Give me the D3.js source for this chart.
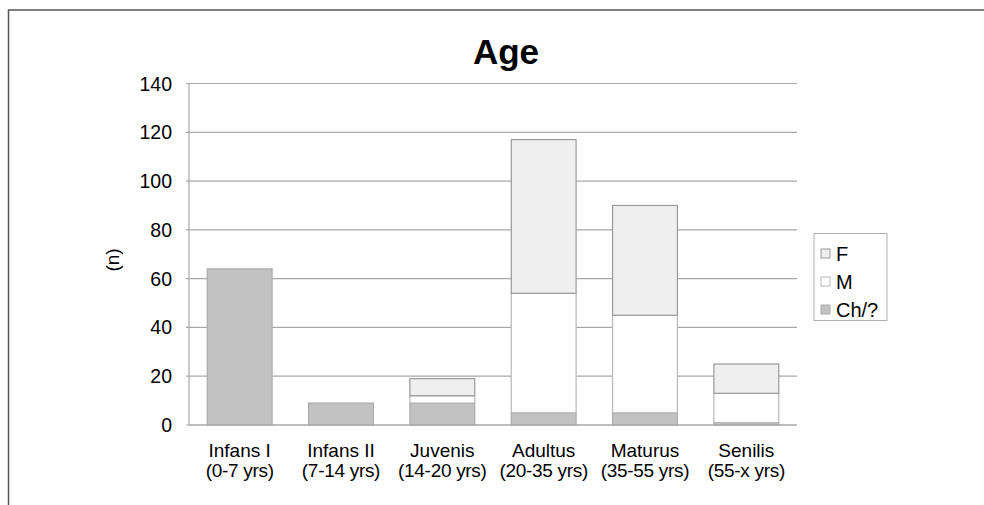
<!DOCTYPE html>
<html>
<head>
<meta charset="utf-8">
<script src="https://cdn.jsdelivr.net/npm/d3@7"></script>
<style>
  body { margin: 0; background: white; }
  svg { display: block; font-family: "Liberation Sans", Arial, sans-serif; }
</style>
</head>
<body>
<div id="chart"></div>
<script>
// age groups (two label lines) and counts per group
const ageGroups = ["Infans I", "Infans II", "Juvenis", "Adultus", "Maturus", "Senilis"];
const ageRanges = ["(0-7 yrs)", "(7-14 yrs)", "(14-20 yrs)", "(20-35 yrs)", "(35-55 yrs)", "(55-x yrs)"];
const chValues = [64, 9, 9, 5, 5, 1];
const mValues  = [0, 0, 3, 49, 40, 12];
const fValues  = [0, 0, 7, 63, 45, 12];
const yTicks = [0, 20, 40, 60, 80, 100, 120, 140];
const seriesKeys = ["Ch", "M", "F"];
const legendLabels = ["F", "M", "Ch/?"];

const W = 984, H = 505;
const margin = {top: 83.5, left: 189, right: 187, bottom: 80};

const svg = d3.select("#chart").append("svg")
  .attr("width", W)
  .attr("height", H);

// outer frame (cropped, only top and left visible)
svg.append("path")
  .attr("d", `M8.5,${H} L8.5,10 L${W},10`)
  .attr("fill", "none")
  .attr("stroke", "#555")
  .attr("stroke-width", 1.5);

// title
svg.append("text")
  .attr("x", 506)
  .attr("y", 64)
  .attr("text-anchor", "middle")
  .style("font-size", "35px")
  .style("font-weight", "bold")
  .attr("fill", "#000")
  .text("Age");

const rows = ageGroups.map((g, i) => ({group: g, Ch: chValues[i], M: mValues[i], F: fValues[i]}));
const stacked = d3.stack().keys(seriesKeys)(rows);

const x = d3.scaleBand()
  .domain(ageGroups)
  .range([margin.left, W - margin.right])
  .paddingInner(0.36)
  .paddingOuter(0.18);

const y = d3.scaleLinear()
  .domain([0, 140])
  .range([425, margin.top]);

// gridlines
svg.append("g")
  .selectAll("line")
  .data(yTicks)
  .enter()
  .append("line")
  .attr("x1", margin.left - 3)
  .attr("x2", W - margin.right)
  .attr("y1", d => y(d))
  .attr("y2", d => y(d))
  .attr("stroke", "#a8a8a8")
  .attr("stroke-width", 1.2);

// y axis line
svg.append("line")
  .attr("x1", margin.left).attr("x2", margin.left)
  .attr("y1", y(140)).attr("y2", y(0))
  .attr("stroke", "#a8a8a8")
  .attr("stroke-width", 1.2);

// y tick labels
svg.append("g")
  .selectAll("text")
  .data(yTicks)
  .enter()
  .append("text")
  .attr("x", 172)
  .attr("y", d => y(d) + 7)
  .attr("text-anchor", "end")
  .style("font-size", "19.5px")
  .attr("fill", "#000")
  .text(d => d);

// y axis title
svg.append("text")
  .attr("transform", "translate(119,260) rotate(-90)")
  .attr("text-anchor", "middle")
  .style("font-size", "19px")
  .attr("fill", "#000")
  .text("(n)");

const fills = {Ch: "#c2c2c2", M: "#ffffff", F: "#efefef"};
const strokes = {Ch: "#ababab", M: "#b8b8b8", F: "#9a9a9a"};

// stacked bars
stacked.forEach(layer => {
  svg.append("g")
    .selectAll("rect")
    .data(layer.filter(d => d[1] - d[0] > 0))
    .enter()
    .append("rect")
    .attr("x", d => x(d.data.group))
    .attr("y", d => y(d[1]))
    .attr("width", x.bandwidth())
    .attr("height", d => y(d[0]) - y(d[1]))
    .attr("fill", fills[layer.key])
    .attr("stroke", strokes[layer.key])
    .attr("stroke-width", 1.2);
});

// bottom axis line
svg.append("line")
  .attr("x1", margin.left).attr("x2", W - margin.right)
  .attr("y1", y(0)).attr("y2", y(0))
  .attr("stroke", "#a8a8a8")
  .attr("stroke-width", 1.2);

// x labels
const xl = svg.append("g");
xl.selectAll(".xl1")
  .data(ageGroups)
  .enter()
  .append("text")
  .attr("class", "xl1")
  .attr("x", d => x(d) + x.bandwidth() / 2)
  .attr("y", 456.5)
  .attr("text-anchor", "middle")
  .style("font-size", "19px")
  .attr("fill", "#000")
  .text(d => d);

xl.selectAll(".xl2")
  .data(ageRanges)
  .enter()
  .append("text")
  .attr("class", "xl2")
  .attr("x", (d, i) => x(ageGroups[i]) + x.bandwidth() / 2)
  .attr("y", 476.5)
  .attr("text-anchor", "middle")
  .style("font-size", "19px")
  .style("letter-spacing", "-0.3px")
  .attr("fill", "#000")
  .text(d => d);

// legend
const legend = svg.append("g");
legend.append("rect")
  .attr("x", 814).attr("y", 233.5)
  .attr("width", 73).attr("height", 87)
  .attr("fill", "white")
  .attr("stroke", "#b0b0b0")
  .attr("stroke-width", 1);

const legendKeys = ["F", "M", "Ch"];
legendKeys.forEach((k, i) => {
  const cy = 253.5 + i * 28;
  legend.append("rect")
    .attr("x", 821).attr("y", cy - 4.5)
    .attr("width", 9).attr("height", 9)
    .attr("fill", fills[k])
    .attr("stroke", strokes[k])
    .attr("stroke-width", 1);
  legend.append("text")
    .attr("x", 836)
    .attr("y", cy + 7.5)
    .style("font-size", "20px")
    .attr("fill", "#000")
    .text(legendLabels[i]);
});
</script>
</body>
</html>
